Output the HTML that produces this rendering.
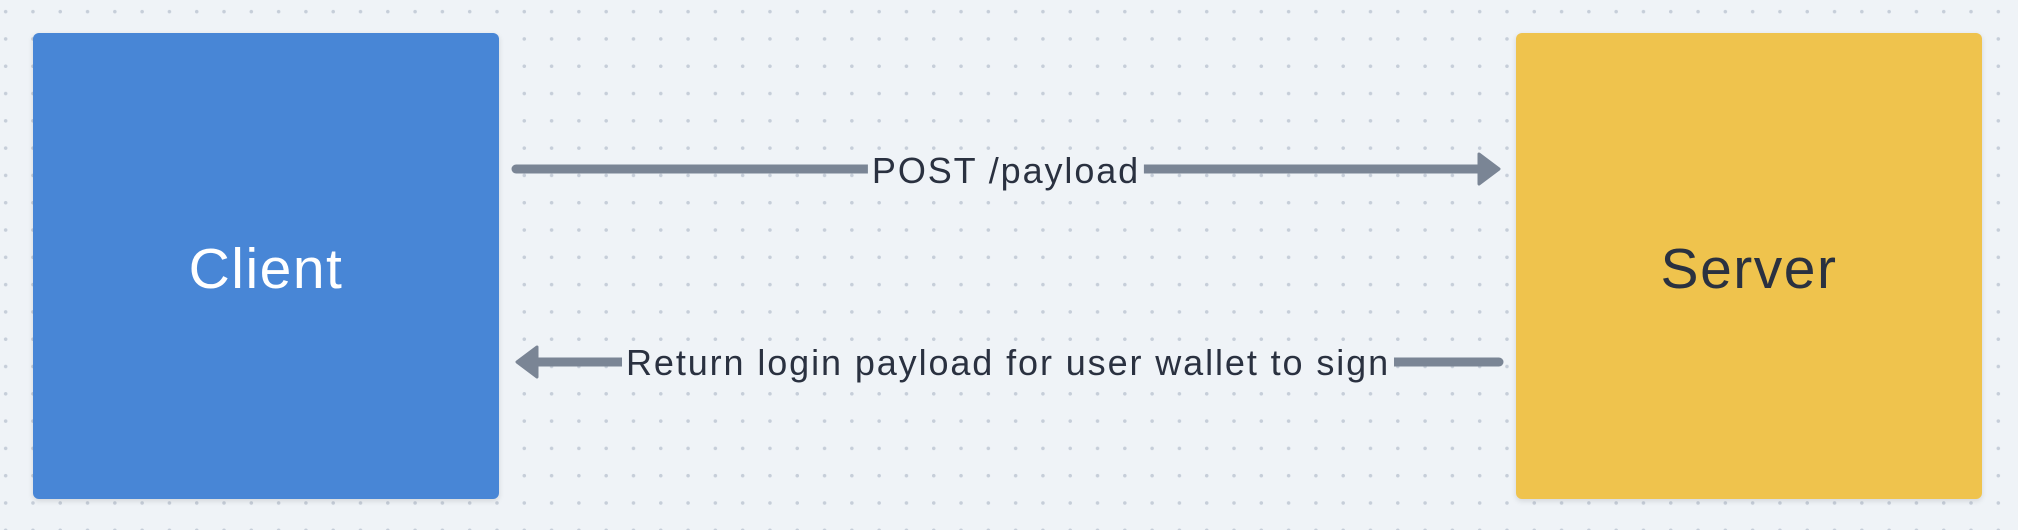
<!DOCTYPE html>
<html><head><style>
html,body{margin:0;padding:0}
body{width:2018px;height:530px;overflow:hidden;background-color:#eff3f7;
background-image:radial-gradient(circle,#c6ced9 1.6px,transparent 2px);background-size:27.3px 27.3px;background-position:-8px -2px;
font-family:"Liberation Sans",sans-serif;position:relative}
.box{position:absolute;top:33px;width:466px;height:466px;border-radius:6px;box-shadow:0 2px 6px rgba(0,0,0,.12);display:flex;align-items:center;justify-content:center;font-size:57px;letter-spacing:1.5px;padding-top:6px;box-sizing:border-box}
.lbl{position:absolute;font-size:36px;letter-spacing:1.9px;color:#2a3140;background:#eff3f7;padding:0 4px;transform:translate(-50%,-50%);white-space:nowrap}
</style></head><body>
<div class="box" style="left:33px;background:#4886d6;color:#fff">Client</div>
<div class="box" style="left:1516px;background:#efc34d;color:#2a3140">Server</div>
<svg width="2018" height="530" style="position:absolute;left:0;top:0">
<g stroke="#7a8595" stroke-width="9" stroke-linecap="round" fill="#7a8595">
<line x1="516" y1="169" x2="1482" y2="169"/>
<line x1="1499" y1="362" x2="534" y2="362"/>
</g>
<polygon points="1479,154 1499,169 1479,184" fill="#7a8595" stroke="#7a8595" stroke-width="3" stroke-linejoin="round"/>
<polygon points="537,347 517,362 537,377" fill="#7a8595" stroke="#7a8595" stroke-width="3" stroke-linejoin="round"/>
</svg>
<div class="lbl" style="left:1006px;top:171px">POST /payload</div>
<div class="lbl" style="left:1008px;top:363px">Return login payload for user wallet to sign</div>
</body></html>
